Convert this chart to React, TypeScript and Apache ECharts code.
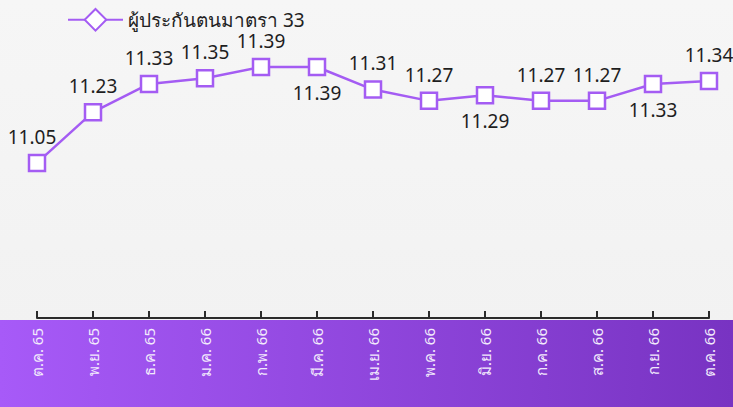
import React, { useEffect, useRef } from 'react';
import * as echarts from 'echarts';

const categories = ['ต.ค. 65', 'พ.ย. 65', 'ธ.ค. 65', 'ม.ค. 66', 'ก.พ. 66', 'มี.ค. 66', 'เม.ย. 66', 'พ.ค. 66', 'มิ.ย. 66', 'ก.ค. 66', 'ส.ค. 66', 'ก.ย. 66', 'ต.ค. 66'];
const values = [11.05, 11.23, 11.33, 11.35, 11.39, 11.39, 11.31, 11.27, 11.29, 11.27, 11.27, 11.33, 11.34];
const labelPlacement = ['top', 'top', 'top', 'top', 'top', 'bottom', 'top', 'top', 'bottom', 'top', 'top', 'bottom', 'top'];
const seriesName = 'ผู้ประกันตนมาตรา 33';

const PURPLE = '#a45cf3';
const FONT = '"Noto Sans", "DejaVu Sans", sans-serif';

export default function App() {
  const ref = useRef<HTMLDivElement>(null);
  useEffect(() => {
    document.body.style.margin = '0';
    const chart = echarts.init(ref.current!, null, { renderer: 'svg' });
    chart.setOption({
      animation: false,
      textStyle: { fontFamily: FONT },
      graphic: [
        {
          type: 'rect',
          z: -1,
          silent: true,
          shape: { x: 0, y: 320, width: 733, height: 87 },
          style: {
            fill: new echarts.graphic.LinearGradient(0, 0, 1, 0, [
              { offset: 0, color: '#a75af8' },
              { offset: 1, color: '#7833c2' },
            ]),
          },
        },
      ],
      legend: {
        top: 3,
        left: 62,
        itemWidth: 55,
        itemHeight: 27,
        itemGap: 10,
        textStyle: { fontSize: 19, lineHeight: 20, color: '#222', fontFamily: FONT },
        data: [seriesName],
      },
      grid: { left: 37, right: 24, top: 36, bottom: 89 },
      xAxis: {
        type: 'category',
        data: categories,
        boundaryGap: false,
        axisLine: { lineStyle: { color: '#2b2b2b', width: 2 } },
        axisTick: { inside: true, length: 7, lineStyle: { color: '#2b2b2b', width: 2 } },
        axisLabel: { rotate: 90, color: '#f2eafc', fontSize: 15, margin: 10, fontFamily: FONT },
        splitLine: { show: false },
      },
      yAxis: {
        type: 'value',
        min: 10.5,
        max: 11.5,
        show: false,
      },
      series: [
        {
          name: seriesName,
          type: 'line',
          symbol: 'diamond',
          symbolSize: 16,
          lineStyle: { color: PURPLE, width: 2.5 },
          itemStyle: { color: '#ffffff', borderColor: PURPLE, borderWidth: 2.5 },
          label: {
            show: true,
            fontSize: 19,
            lineHeight: 20,
            color: '#1e1e1e',
            distance: 7,
            fontFamily: FONT,
            formatter: (p: any) => Number(p.value).toFixed(2),
          },
          data: values.map((v, i) => ({
            value: v,
            symbol: 'rect',
            label: {
              position: labelPlacement[i],
              offset: i === 0 ? [-5, 0] : [0, 0],
            },
          })),
        },
      ],
    });
    return () => chart.dispose();
  }, []);
  return (
    <div
      ref={ref}
      style={{ width: 733, height: 407, background: 'linear-gradient(#f6f6f6, #f1f1f1)' }}
    />
  );
}
